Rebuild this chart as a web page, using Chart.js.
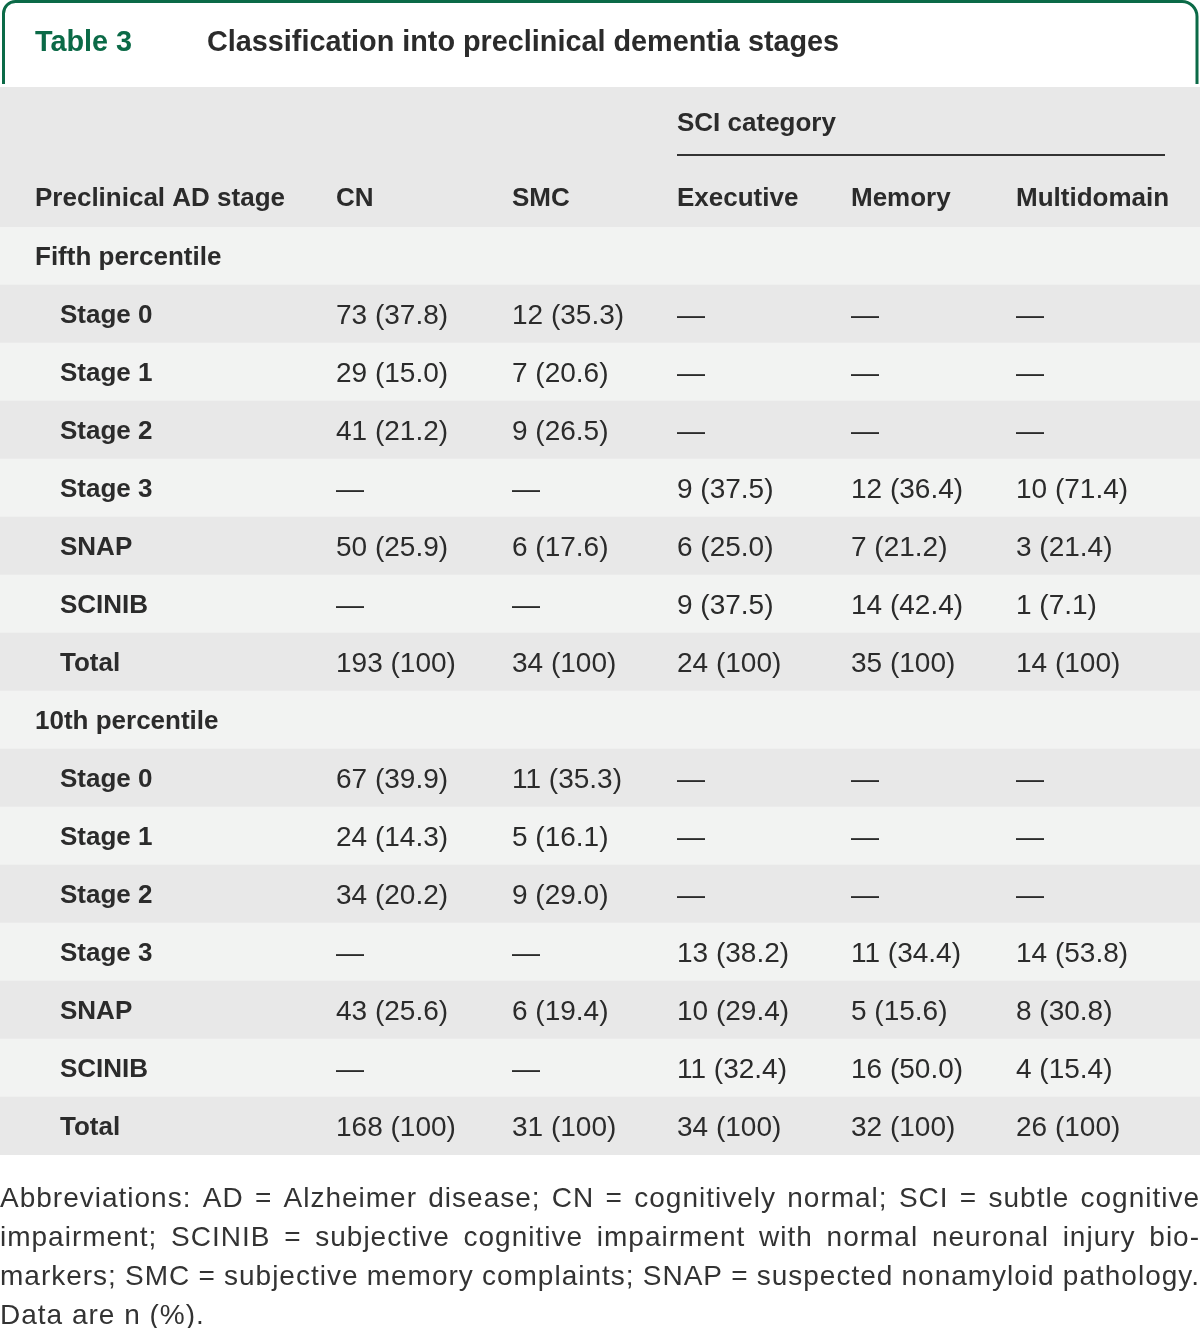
<!DOCTYPE html>
<html>
<head>
<meta charset="utf-8">
<script src="https://cdn.jsdelivr.net/npm/chart.js@4/dist/chart.umd.min.js"></script>
<style>
  html, body { margin: 0; padding: 0; background: #fff; }
  canvas { display: block; }
</style>
</head>
<body>
<canvas id="table" width="1200" height="1328"></canvas>
<script>
// ---------- Table data ----------
const sections = ['Fifth percentile', '10th percentile'];
const stages = ['Stage 0', 'Stage 1', 'Stage 2', 'Stage 3', 'SNAP', 'SCINIB', 'Total'];
const columns = ['CN', 'SMC', 'Executive', 'Memory', 'Multidomain'];

// null = dash in the table
const cnFifth = ['73 (37.8)', '29 (15.0)', '41 (21.2)', null, '50 (25.9)', null, '193 (100)'];
const smcFifth = ['12 (35.3)', '7 (20.6)', '9 (26.5)', null, '6 (17.6)', null, '34 (100)'];
const execFifth = [null, null, null, '9 (37.5)', '6 (25.0)', '9 (37.5)', '24 (100)'];
const memFifth = [null, null, null, '12 (36.4)', '7 (21.2)', '14 (42.4)', '35 (100)'];
const multiFifth = [null, null, null, '10 (71.4)', '3 (21.4)', '1 (7.1)', '14 (100)'];

const cnTenth = ['67 (39.9)', '24 (14.3)', '34 (20.2)', null, '43 (25.6)', null, '168 (100)'];
const smcTenth = ['11 (35.3)', '5 (16.1)', '9 (29.0)', null, '6 (19.4)', null, '31 (100)'];
const execTenth = [null, null, null, '13 (38.2)', '10 (29.4)', '11 (32.4)', '34 (100)'];
const memTenth = [null, null, null, '11 (34.4)', '5 (15.6)', '16 (50.0)', '32 (100)'];
const multiTenth = [null, null, null, '14 (53.8)', '8 (30.8)', '4 (15.4)', '26 (100)'];

const footnote = [
  'Abbreviations: AD = Alzheimer disease; CN = cognitively normal; SCI = subtle cognitive',
  'impairment; SCINIB = subjective cognitive impairment with normal neuronal injury bio-',
  'markers; SMC = subjective memory complaints; SNAP = suspected nonamyloid pathology.',
  'Data are n (%).'
];

// ---------- Build rows ----------
const sectionCells = [
  [cnFifth, smcFifth, execFifth, memFifth, multiFifth],
  [cnTenth, smcTenth, execTenth, memTenth, multiTenth]
];
const rowLabels = [];
const rowIsSection = [];
const rowCells = [];
sections.forEach((sec, s) => {
  rowLabels.push(sec);
  rowIsSection.push(true);
  rowCells.push(null);
  stages.forEach((st, i) => {
    rowLabels.push(st);
    rowIsSection.push(false);
    rowCells.push(sectionCells[s].map(col => col[i]));
  });
});

// ---------- Layout & style ----------
const GREEN = '#0b6a47';
const TEXT = '#2b2b2b';
const HEADER_BG = '#e8e8e8';
const LIGHT_BG = '#f2f3f2';
const colX = [336, 512, 677, 851, 1016];
const boldFont = '600 26px "Liberation Sans", Arial, sans-serif';
const regFont = '28px "Liberation Sans", Arial, sans-serif';
const DY = 2; // text baseline nudge

function justifyLine(ctx, text, x, y, width) {
  const words = text.split(' ');
  const widths = words.map(w => ctx.measureText(w).width);
  const total = widths.reduce((a, b) => a + b, 0);
  const gap = (width - total) / (words.length - 1);
  let cx = x;
  words.forEach((w, i) => {
    ctx.fillText(w, cx, y);
    cx += widths[i] + gap;
  });
}

const tablePlugin = {
  id: 'tableText',
  beforeDatasetsDraw(chart) {
    const ctx = chart.ctx;
    ctx.save();
    // header band
    ctx.fillStyle = HEADER_BG;
    ctx.fillRect(0, 87, chart.width, chart.chartArea.top - 87);
    ctx.restore();
  },
  afterDatasetsDraw(chart) {
    const ctx = chart.ctx;
    const yScale = chart.scales.y;
    ctx.save();

    // title tab border
    ctx.strokeStyle = GREEN;
    ctx.lineWidth = 3;
    ctx.beginPath();
    ctx.moveTo(3.5, 84);
    ctx.lineTo(3.5, 14);
    ctx.arcTo(3.5, 1.5, 16, 1.5, 12);
    ctx.lineTo(1182, 1.5);
    ctx.arcTo(1197, 1.5, 1197, 16, 15);
    ctx.lineTo(1197, 84);
    ctx.stroke();

    ctx.textBaseline = 'middle';
    ctx.textAlign = 'left';
    ctx.font = '600 28.8px "Liberation Sans", Arial, sans-serif';
    ctx.fillStyle = GREEN;
    ctx.fillText('Table 3', 35, 41 + DY);
    ctx.fillStyle = TEXT;
    ctx.fillText('Classification into preclinical dementia stages', 207, 41 + DY);

    // column header
    ctx.font = boldFont;
    ctx.fillText('SCI category', colX[2], 122 + DY);
    ctx.strokeStyle = '#333';
    ctx.lineWidth = 2;
    ctx.beginPath();
    ctx.moveTo(colX[2], 155);
    ctx.lineTo(1165, 155);
    ctx.stroke();
    ctx.fillText('Preclinical AD stage', 35, 197 + DY);
    columns.forEach((c, i) => ctx.fillText(c, colX[i], 197 + DY));

    // body cells
    rowLabels.forEach((label, r) => {
      const y = yScale.getPixelForValue(r) + DY;
      ctx.font = boldFont;
      ctx.fillStyle = TEXT;
      ctx.fillText(label, rowIsSection[r] ? 35 : 60, y);
      if (!rowCells[r]) return;
      ctx.font = regFont;
      rowCells[r].forEach((v, c) => {
        ctx.fillText(v === null ? '\u2014' : v, colX[c], y);
      });
    });

    // footnote
    ctx.font = regFont;
    ctx.letterSpacing = '1px';
    ctx.fillStyle = '#333';
    footnote.forEach((line, i) => {
      const y = 1197 + i * 39.2 + DY;
      if (i < footnote.length - 1) justifyLine(ctx, line, 0, y, chart.width);
      else ctx.fillText(line, 0, y);
    });
    ctx.restore();
  }
};

// Row bands drawn as full-width horizontal bars on a category axis
new Chart(document.getElementById('table'), {
  type: 'bar',
  data: {
    labels: rowLabels,
    datasets: [{
      data: rowLabels.map(() => 1),
      backgroundColor: rowLabels.map((_, i) => (i % 2 === 0 ? LIGHT_BG : HEADER_BG)),
      borderWidth: 0,
      barPercentage: 1,
      categoryPercentage: 1
    }]
  },
  options: {
    indexAxis: 'y',
    responsive: false,
    animation: false,
    devicePixelRatio: 1,
    layout: { padding: { top: 227, bottom: 173, left: 0, right: 0 } },
    scales: {
      x: { display: false, min: 0, max: 1 },
      y: { display: false }
    },
    plugins: {
      legend: { display: false },
      tooltip: { enabled: false }
    }
  },
  plugins: [tablePlugin]
});
</script>
</body>
</html>
